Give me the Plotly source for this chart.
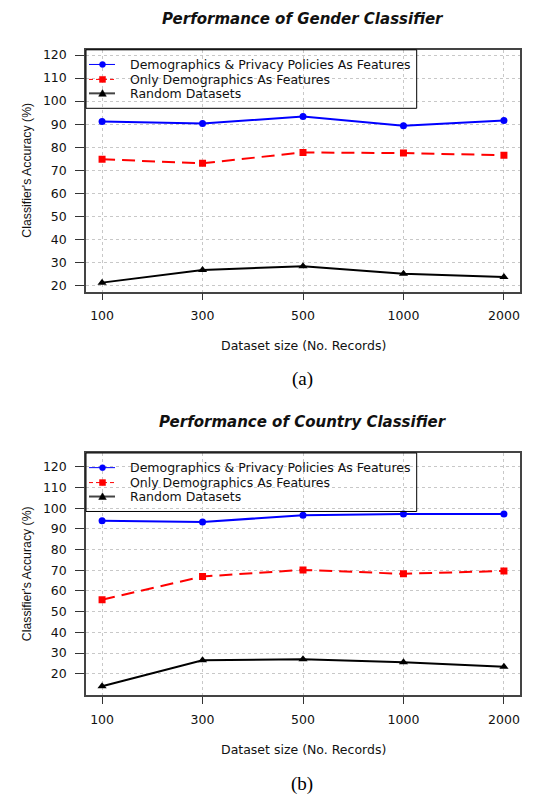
import plotly.graph_objects as go

sizes = ["100", "300", "500", "1000", "2000"]
series_names = ["Demographics & Privacy Policies As Features",
                "Only Demographics As Features",
                "Random Datasets"]

gender_demo_priv = [91.1, 90.3, 93.3, 89.3, 91.6]
gender_demo_only = [74.7, 73.0, 77.7, 77.4, 76.5]
gender_random = [21.1, 26.6, 28.2, 25.0, 23.5]

country_demo_priv = [93.9, 93.4, 96.6, 97.2, 97.2]
country_demo_only = [55.8, 67.0, 70.2, 68.3, 69.7]
country_random = [14.0, 26.5, 27.0, 25.6, 23.4]

y_ticks = [20, 30, 40, 50, 60, 70, 80, 90, 100, 110, 120]

W, H = 548, 797
FONT = "DejaVu Sans"

styles = [
    dict(color="#0000FF", dash="solid", symbol="circle", msize=7),
    dict(color="#FF0000", dash="13px,7px", symbol="square", msize=7),
    dict(color="#000000", dash="solid", symbol="triangle-up", msize=8),
]

fig = go.Figure()

panels = [
    dict(data=[gender_demo_priv, gender_demo_only, gender_random], x="x", y="y",
         top=48, bottom=290.7, yrange=[17.2, 122.3]),
    dict(data=[country_demo_priv, country_demo_only, country_random], x="x2", y="y2",
         top=452.7, bottom=696, yrange=[9.55, 126.7]),
]

for p in panels:
    for name, vals, st in zip(series_names, p["data"], styles):
        fig.add_trace(go.Scatter(
            x=sizes, y=vals, name=name, mode="lines+markers",
            xaxis=p["x"], yaxis=p["y"], showlegend=False,
            line=dict(color=st["color"], width=2, dash=st["dash"]),
            marker=dict(color=st["color"], symbol=st["symbol"], size=st["msize"]),
        ))

xd = [86 / W, 520 / W]

def px(x):
    return x / W

def py(y):
    return 1 - y / H

def yaxis_cfg(p, anchor):
    return dict(
        domain=[py(p["bottom"]), py(p["top"])],
        range=p["yrange"], tickvals=y_ticks, ticks="outside", ticklen=9,
        tickcolor="#333", tickwidth=1.2, ticklabelstandoff=6,
        showline=True, linecolor="#444", linewidth=1.5, mirror=True,
        showgrid=True, gridcolor="#c8c8c8", griddash="dot", gridwidth=1,
        zeroline=False, anchor=anchor, fixedrange=True,
        tickfont=dict(family=FONT, size=12.5, color="#111"),
    )

def xaxis_cfg(anchor):
    return dict(
        domain=xd, type="category", range=[-0.16, 4.16],
        ticks="outside", ticklen=7, tickcolor="#333", tickwidth=1.2,
        ticklabelstandoff=5,
        showline=True, linecolor="#444", linewidth=1.5, mirror=True,
        showgrid=True, gridcolor="#c8c8c8", griddash="dot", gridwidth=1,
        zeroline=False, anchor=anchor, fixedrange=True,
        tickfont=dict(family=FONT, size=12.5, color="#111"),
    )

annotations = []
shapes = []
titles = ["Performance of Gender Classifier", "Performance of Country Classifier"]
title_y = [16.7, 421.7]
xtitle_y = [345, 750]
cap_y = [378, 785]
cap = ["(a)", "(b)"]

leg_line_w = [1, 1, 2]
leg_line_col = ["#0000FF", "#FF0000", "#444444"]
leg_line_dash = ["solid", "4px,3px", "solid"]

for i, p in enumerate(panels):
    annotations.append(dict(
        text="<b><i>" + titles[i] + "</i></b>", x=px(303), y=py(title_y[i]),
        xref="paper", yref="paper", xanchor="center", yanchor="middle",
        showarrow=False, font=dict(family=FONT, size=15, color="#111")))
    annotations.append(dict(
        text="Dataset size (No. Records)", x=px(303), y=py(xtitle_y[i]),
        xref="paper", yref="paper", xanchor="center", yanchor="middle",
        showarrow=False, font=dict(family=FONT, size=12.5, color="#111")))
    annotations.append(dict(
        text="Classifier's Accuracy (%)", x=px(27),
        y=py((p["top"] + p["bottom"]) / 2),
        xref="paper", yref="paper", xanchor="center", yanchor="middle",
        textangle=-90, showarrow=False,
        font=dict(family="Liberation Sans", size=12.3, color="#111")))
    annotations.append(dict(
        text=cap[i], x=px(302), y=py(cap_y[i]),
        xref="paper", yref="paper", xanchor="center", yanchor="middle",
        showarrow=False, font=dict(family="Liberation Serif", size=19, color="#000")))

    # legend box
    top = p["top"]
    shapes.append(dict(type="rect", xref="paper", yref="paper",
                       x0=px(86), x1=px(416.7), y0=py(top + 58.7), y1=py(top),
                       line=dict(color="#000", width=1), fillcolor="rgba(0,0,0,0)"))
    for k in range(3):
        ry = top + [14.7, 29.7, 43.7][k]
        shapes.append(dict(type="line", xref="paper", yref="paper",
                           x0=px(89), x1=px(115), y0=py(ry), y1=py(ry),
                           line=dict(color=leg_line_col[k], width=leg_line_w[k],
                                     dash=leg_line_dash[k])))
        cx = 102.5
        if k == 0:
            shapes.append(dict(type="circle", xref="paper", yref="paper",
                               x0=px(cx - 3), x1=px(cx + 3), y0=py(ry + 3), y1=py(ry - 3),
                               fillcolor="#0000FF", line=dict(color="#0000FF", width=0.5)))
        elif k == 1:
            shapes.append(dict(type="rect", xref="paper", yref="paper",
                               x0=px(cx - 3), x1=px(cx + 3), y0=py(ry + 3), y1=py(ry - 3),
                               fillcolor="#FF0000", line=dict(color="#FF0000", width=0.5)))
        else:
            path = "M {:.5f} {:.5f} L {:.5f} {:.5f} L {:.5f} {:.5f} Z".format(
                px(cx - 3.8), py(ry + 3), px(cx + 3.8), py(ry + 3), px(cx), py(ry - 3.8))
            shapes.append(dict(type="path", xref="paper", yref="paper", path=path,
                               fillcolor="#000", line=dict(color="#000", width=0.5)))
        annotations.append(dict(
            text=series_names[k].replace("&", "&amp;"), x=px(128), y=py(ry),
            xref="paper", yref="paper", xanchor="left", yanchor="middle",
            showarrow=False, font=dict(family=FONT, size=12.5, color="#111")))

fig.update_layout(
    width=W, height=H, margin=dict(l=0, r=0, t=0, b=0),
    paper_bgcolor="white", plot_bgcolor="white",
    showlegend=False, hovermode=False,
    xaxis=xaxis_cfg("y"), yaxis=yaxis_cfg(panels[0], "x"),
    xaxis2=xaxis_cfg("y2"), yaxis2=yaxis_cfg(panels[1], "x2"),
    annotations=annotations, shapes=shapes,
)

fig.write_html("out.html", config={"displayModeBar": False},
               post_script="document.body.style.margin='0';")
